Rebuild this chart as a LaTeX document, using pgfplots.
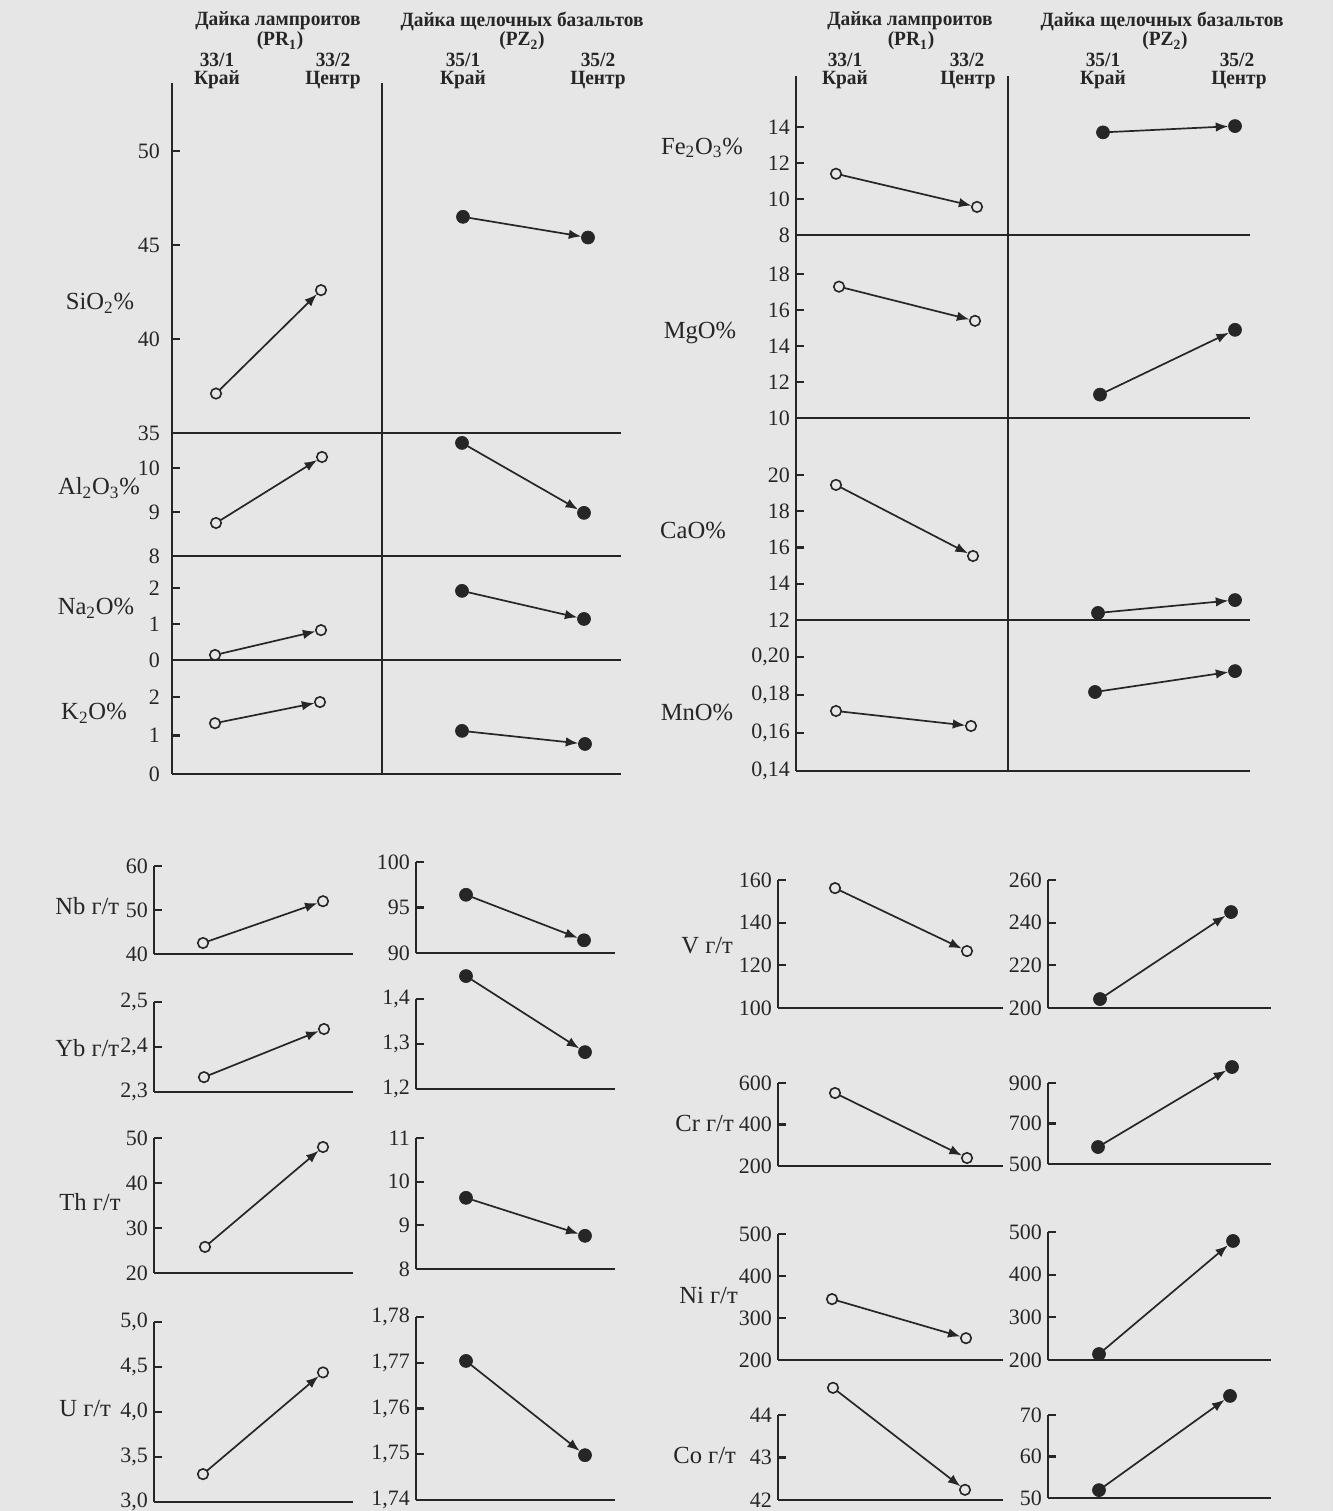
\documentclass[border=0pt]{standalone}
\usepackage{fontspec}
\setmainfont{Liberation Serif}
\newfontfamily\hdfont[FakeStretch=0.96]{Liberation Serif}
\usepackage{pgfplots}
\pgfplotsset{compat=1.18}
\usetikzlibrary{arrows.meta}
\definecolor{ink}{HTML}{262626}
\definecolor{bg}{HTML}{E6E6E6}
\newcommand{\tl}{\fontsize{12.5}{13}\selectfont}
\newcommand{\el}{\fontsize{14}{15}\selectfont}
\newcommand{\hd}{\hdfont\fontsize{11.5}{12}\selectfont\bfseries}
\pgfplotsset{
  panel/.style={
    scale only axis, anchor=south west, clip=false,
    axis x line*=bottom, axis y line*=left,
    axis line style={line width=0.42mm, draw=ink},
    tick align=inside, major tick length=1.6mm,
    tick style={line width=0.42mm, draw=ink},
    xtick=\empty,
    tick label style={font=\tl, text=ink},
  },
  sep/.style={extra x ticks={#1}, extra x tick labels={},
    extra x tick style={grid=major, major tick length=0pt, tick style={draw=none},
      major grid style={line width=0.42mm, draw=ink}}},
  wide/.style={yticklabel style={xshift=-1.2mm}},
  arrO/.style={draw=ink, line width=0.34mm, -{Latex[length=2.5mm,width=1.9mm]}, shorten <=1.05mm, shorten >=1.15mm},
  arrF/.style={draw=ink, line width=0.34mm, -{Latex[length=2.5mm,width=1.9mm]}, shorten <=1.3mm, shorten >=1.35mm},
  mO/.style={only marks, mark=*, mark size=1.05mm, mark options={fill=bg, draw=ink, line width=0.32mm}},
  mF/.style={only marks, mark=*, mark size=1.3mm, mark options={fill=ink, draw=ink}},
}
\begin{document}
\begin{tikzpicture}
\fill[bg] (0,0) rectangle (266.6mm,-302.2mm);
\path[use as bounding box] (0,0) rectangle (266.6mm,-302.2mm);

% ===== left stacked block =====
\begin{axis}[panel, wide, sep=382, at={(34.4mm,-86.6mm)}, width=89.8mm, height=70mm,
  xmin=172, xmax=621, ymin=35, ymax=53.62, ytick={35,40,45,50}, yticklabels={35,40,45,50}]
\addplot[arrO] coordinates {(216,37.1) (321,42.6)};
\addplot[mO] coordinates {(216,37.1) (321,42.6)};
\addplot[arrF] coordinates {(463,46.5) (588,45.4)};
\addplot[mF] coordinates {(463,46.5) (588,45.4)};
\end{axis}
\begin{axis}[panel, wide, sep=382, at={(34.4mm,-111.2mm)}, width=89.8mm, height=24.6mm,
  xmin=172, xmax=621, ymin=8, ymax=10.795, ytick={8,9,10}, yticklabels={8,9,10}]
\addplot[arrO] coordinates {(216,8.75) (322,10.25)};
\addplot[mO] coordinates {(216,8.75) (322,10.25)};
\addplot[arrF] coordinates {(462,10.57) (584,8.98)};
\addplot[mF] coordinates {(462,10.57) (584,8.98)};
\end{axis}
\begin{axis}[panel, wide, sep=382, at={(34.4mm,-132mm)}, width=89.8mm, height=20.8mm,
  xmin=172, xmax=621, ymin=0, ymax=2.889, ytick={0,1,2}, yticklabels={0,1,2}]
\addplot[arrO] coordinates {(215,0.14) (321,0.83)};
\addplot[mO] coordinates {(215,0.14) (321,0.83)};
\addplot[arrF] coordinates {(462,1.92) (584,1.14)};
\addplot[mF] coordinates {(462,1.92) (584,1.14)};
\end{axis}
\begin{axis}[panel, wide, sep=382, at={(34.4mm,-154.8mm)}, width=89.8mm, height=22.8mm,
  xmin=172, xmax=621, ymin=0, ymax=2.961, ytick={0,1,2}, yticklabels={0,1,2}]
\addplot[arrO] coordinates {(215,1.32) (320,1.87)};
\addplot[mO] coordinates {(215,1.32) (320,1.87)};
\addplot[arrF] coordinates {(462,1.12) (585,0.78)};
\addplot[mF] coordinates {(462,1.12) (585,0.78)};
\end{axis}

% ===== right stacked block =====
\begin{axis}[panel, sep=1008, at={(159.2mm,-47mm)}, width=90.8mm, height=31.8mm,
  xmin=796, xmax=1250, ymin=8, ymax=16.83, ytick={8,10,12,14}, yticklabels={8,10,12,14}]
\addplot[arrO] coordinates {(836,11.4) (977,9.56)};
\addplot[mO] coordinates {(836,11.4) (977,9.56)};
\addplot[arrF] coordinates {(1103,13.7) (1235,14.05)};
\addplot[mF] coordinates {(1103,13.7) (1235,14.05)};
\end{axis}
\begin{axis}[panel, sep=1008, at={(159.2mm,-83.6mm)}, width=90.8mm, height=36.6mm,
  xmin=796, xmax=1250, ymin=10, ymax=20.17, ytick={10,12,14,16,18}, yticklabels={10,12,14,16,18}]
\addplot[arrO] coordinates {(839,17.3) (975,15.4)};
\addplot[mO] coordinates {(839,17.3) (975,15.4)};
\addplot[arrF] coordinates {(1100,11.3) (1235,14.9)};
\addplot[mF] coordinates {(1100,11.3) (1235,14.9)};
\end{axis}
\begin{axis}[panel, sep=1008, at={(159.2mm,-124mm)}, width=90.8mm, height=40.4mm,
  xmin=796, xmax=1250, ymin=12, ymax=23.14, ytick={12,14,16,18,20}, yticklabels={12,14,16,18,20}]
\addplot[arrO] coordinates {(836,19.45) (973,15.53)};
\addplot[mO] coordinates {(836,19.45) (973,15.53)};
\addplot[arrF] coordinates {(1098,12.39) (1235,13.10)};
\addplot[mF] coordinates {(1098,12.39) (1235,13.10)};
\end{axis}
\begin{axis}[panel, sep=1008, at={(159.2mm,-154.2mm)}, width=90.8mm, height=30.2mm,
  xmin=796, xmax=1250, ymin=0.14, ymax=0.2195, ytick={0.14,0.16,0.18,0.20},
  yticklabels={{0,14},{0,16},{0,18},{0,20}}]
\addplot[arrO] coordinates {(836,0.1716) (971,0.1637)};
\addplot[mO] coordinates {(836,0.1716) (971,0.1637)};
\addplot[arrF] coordinates {(1095,0.1816) (1235,0.1926)};
\addplot[mF] coordinates {(1095,0.1816) (1235,0.1926)};
\end{axis}

% ===== lower left: lamproites =====
\begin{axis}[panel, at={(30.8mm,-190.8mm)}, width=39.8mm, height=17.6mm,
  xmin=154, xmax=353, ymin=40, ymax=60, ytick={40,50,60}, yticklabels={40,50,60}]
\addplot[arrO] coordinates {(203,42.5) (323,52.0)};
\addplot[mO] coordinates {(203,42.5) (323,52.0)};
\end{axis}
\begin{axis}[panel, at={(30.8mm,-218.4mm)}, width=39.8mm, height=18mm,
  xmin=154, xmax=353, ymin=2.3, ymax=2.5, ytick={2.3,2.4,2.5}, yticklabels={{2,3},{2,4},{2,5}}]
\addplot[arrO] coordinates {(204,2.333) (324,2.44)};
\addplot[mO] coordinates {(204,2.333) (324,2.44)};
\end{axis}
\begin{axis}[panel, at={(30.8mm,-254.6mm)}, width=39.8mm, height=27mm,
  xmin=154, xmax=353, ymin=20, ymax=50, ytick={20,30,40,50}, yticklabels={20,30,40,50}]
\addplot[arrO] coordinates {(205,25.8) (323,48.0)};
\addplot[mO] coordinates {(205,25.8) (323,48.0)};
\end{axis}
\begin{axis}[panel, at={(30.8mm,-300.4mm)}, width=39.8mm, height=36mm,
  xmin=154, xmax=353, ymin=3.0, ymax=5.0, ytick={3.0,3.5,4.0,4.5,5.0},
  yticklabels={{3,0},{3,5},{4,0},{4,5},{5,0}}]
\addplot[arrO] coordinates {(203,3.31) (323,4.44)};
\addplot[mO] coordinates {(203,3.31) (323,4.44)};
\end{axis}

% ===== lower left: alkaline basalts =====
\begin{axis}[panel, at={(83.2mm,-190.6mm)}, width=39.8mm, height=18.2mm,
  xmin=416, xmax=615, ymin=90, ymax=100, ytick={90,95,100}, yticklabels={90,95,100}]
\addplot[arrF] coordinates {(466,96.4) (584,91.4)};
\addplot[mF] coordinates {(466,96.4) (584,91.4)};
\end{axis}
\begin{axis}[panel, at={(83.2mm,-217.8mm)}, width=39.8mm, height=18mm,
  xmin=416, xmax=615, ymin=1.2, ymax=1.4, ytick={1.2,1.3,1.4}, yticklabels={{1,2},{1,3},{1,4}}]
\addplot[arrF] coordinates {(466,1.451) (585,1.282)};
\addplot[mF] coordinates {(466,1.451) (585,1.282)};
\end{axis}
\begin{axis}[panel, at={(83.2mm,-253.8mm)}, width=39.8mm, height=26.2mm,
  xmin=416, xmax=615, ymin=8, ymax=11, ytick={8,9,10,11}, yticklabels={8,9,10,11}]
\addplot[arrF] coordinates {(466,9.63) (585,8.76)};
\addplot[mF] coordinates {(466,9.63) (585,8.76)};
\end{axis}
\begin{axis}[panel, at={(83.2mm,-300mm)}, width=39.8mm, height=36.6mm,
  xmin=416, xmax=615, ymin=1.74, ymax=1.78, ytick={1.74,1.75,1.76,1.77,1.78},
  yticklabels={{1,74},{1,75},{1,76},{1,77},{1,78}}]
\addplot[arrF] coordinates {(466,1.7704) (585,1.7498)};
\addplot[mF] coordinates {(466,1.7704) (585,1.7498)};
\end{axis}

% ===== lower right: lamproites =====
\begin{axis}[panel, at={(155.6mm,-201.6mm)}, width=45mm, height=25.6mm,
  xmin=778, xmax=1003, ymin=100, ymax=160, ytick={100,120,140,160}, yticklabels={100,120,140,160}]
\addplot[arrO] coordinates {(835,156.2) (967,126.7)};
\addplot[mO] coordinates {(835,156.2) (967,126.7)};
\end{axis}
\begin{axis}[panel, at={(155.6mm,-233.2mm)}, width=45mm, height=16.6mm,
  xmin=778, xmax=1003, ymin=200, ymax=600, ytick={200,400,600}, yticklabels={200,400,600}]
\addplot[arrO] coordinates {(835,551.8) (967,238.6)};
\addplot[mO] coordinates {(835,551.8) (967,238.6)};
\end{axis}
\begin{axis}[panel, at={(155.6mm,-272mm)}, width=45mm, height=25.2mm,
  xmin=778, xmax=1003, ymin=200, ymax=500, ytick={200,300,400,500}, yticklabels={200,300,400,500}]
\addplot[arrO] coordinates {(832,345) (966,252)};
\addplot[mO] coordinates {(832,345) (966,252)};
\end{axis}
\begin{axis}[panel, at={(155.6mm,-300mm)}, width=45mm, height=17mm,
  xmin=778, xmax=1003, ymin=42, ymax=44, ytick={42,43,44}, yticklabels={42,43,44}]
\addplot[arrO] coordinates {(833,44.64) (965,42.24)};
\addplot[mO] coordinates {(833,44.64) (965,42.24)};
\end{axis}

% ===== lower right: alkaline basalts =====
\begin{axis}[panel, at={(209.6mm,-201.6mm)}, width=44.6mm, height=25.6mm,
  xmin=1048, xmax=1271, ymin=200, ymax=260, ytick={200,220,240,260}, yticklabels={200,220,240,260}]
\addplot[arrF] coordinates {(1100,204.2) (1231,245)};
\addplot[mF] coordinates {(1100,204.2) (1231,245)};
\end{axis}
\begin{axis}[panel, at={(209.6mm,-232.8mm)}, width=44.6mm, height=16.2mm,
  xmin=1048, xmax=1271, ymin=500, ymax=900, ytick={500,700,900}, yticklabels={500,700,900}]
\addplot[arrF] coordinates {(1098,584) (1232,979)};
\addplot[mF] coordinates {(1098,584) (1232,979)};
\end{axis}
\begin{axis}[panel, at={(209.6mm,-272mm)}, width=44.6mm, height=25.6mm,
  xmin=1048, xmax=1271, ymin=200, ymax=500, ytick={200,300,400,500}, yticklabels={200,300,400,500}]
\addplot[arrF] coordinates {(1099,214) (1233,479)};
\addplot[mF] coordinates {(1099,214) (1233,479)};
\end{axis}
\begin{axis}[panel, at={(209.6mm,-299.6mm)}, width=44.6mm, height=16.6mm,
  xmin=1048, xmax=1271, ymin=50, ymax=70, ytick={50,60,70}, yticklabels={50,60,70}]
\addplot[arrF] coordinates {(1099,51.9) (1230,74.6)};
\addplot[mF] coordinates {(1099,51.9) (1230,74.6)};
\end{axis}

% ===== texts =====
\begin{scope}[x=0.2mm, y=-0.2mm, every node/.style={inner sep=0pt, text=ink}]
\begin{scope}[every node/.append style={font=\hd}]
\node at (278,21) {Дайка лампроитов};
\node at (280,41) {(PR\textsubscript{1})};
\node at (522,21) {Дайка щелочных базальтов};
\node at (522,41) {(PZ\textsubscript{2})};
\node at (217,60) {33/1}; \node at (217,80) {Край};
\node at (333,60) {33/2}; \node at (333,80) {Центр};
\node at (463,60) {35/1}; \node at (463,80) {Край};
\node at (598,60) {35/2}; \node at (598,80) {Центр};
\node at (910,21) {Дайка лампроитов};
\node at (911,41) {(PR\textsubscript{1})};
\node at (1162,21) {Дайка щелочных базальтов};
\node at (1165,41) {(PZ\textsubscript{2})};
\node at (845,60) {33/1}; \node at (845,80) {Край};
\node at (967,60) {33/2}; \node at (968,80) {Центр};
\node at (1103,60) {35/1}; \node at (1103,80) {Край};
\node at (1237,60) {35/2}; \node at (1239,80) {Центр};
\end{scope}
\begin{scope}[every node/.append style={font=\el}]
\node at (100,303) {SiO\textsubscript{2}\%};
\node at (99,488) {Al\textsubscript{2}O\textsubscript{3}\%};
\node at (96,608) {Na\textsubscript{2}O\%};
\node at (94,713) {K\textsubscript{2}O\%};
\node at (702,148) {Fe\textsubscript{2}O\textsubscript{3}\%};
\node at (700,333) {MgO\%};
\node at (693,530) {CaO\%};
\node at (697,712) {MnO\%};
\node[anchor=west] at (55,906) {Nb г/т};
\node[anchor=west] at (55,1048) {Yb г/т};
\node[anchor=west] at (59,1202) {Th г/т};
\node[anchor=west] at (59,1409) {U г/т};
\node[anchor=west] at (681,946) {V г/т};
\node[anchor=west] at (675,1123) {Cr г/т};
\node[anchor=west] at (679,1295) {Ni г/т};
\node[anchor=west] at (673,1455) {Co г/т};
\end{scope}
\end{scope}
\end{tikzpicture}
\end{document}
